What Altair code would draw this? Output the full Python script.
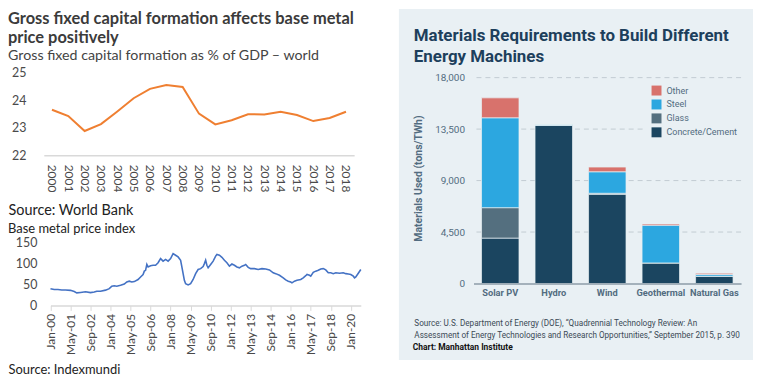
import altair as alt
import pandas as pd

# ---------------- data: left top (GFCF, % of GDP, world) ----------------
GFCF_YEARS = ["2000", "2001", "2002", "2003", "2004", "2005", "2006", "2007", "2008", "2009",
              "2010", "2011", "2012", "2013", "2014", "2015", "2016", "2017", "2018"]
GFCF_VALUES = [23.65, 23.42, 22.88, 23.13, 23.59, 24.07, 24.41, 24.55, 24.48, 23.51,
               23.12, 23.27, 23.49, 23.48, 23.58, 23.46, 23.24, 23.35, 23.58]
GFCF_TICKS = [22, 23, 24, 25]

# ---------------- data: left bottom (base metal price index) ----------------
METAL_DATES = [
    "2000-01", "2000-04", "2000-07", "2000-10", "2001-01", "2001-05", "2001-08", "2001-10",
    "2002-01", "2002-05", "2002-09", "2002-12", "2003-02", "2003-05", "2003-09", "2003-12",
    "2004-02", "2004-04", "2004-06", "2004-09", "2004-12", "2005-02", "2005-04", "2005-06",
    "2005-08", "2005-11", "2006-01", "2006-03", "2006-04", "2006-05", "2006-06", "2006-07",
    "2006-09", "2006-11", "2007-01", "2007-03", "2007-05", "2007-07", "2007-09", "2007-11",
    "2008-01", "2008-03", "2008-05", "2008-07", "2008-09", "2008-10", "2008-11", "2008-12",
    "2009-01", "2009-03", "2009-05", "2009-07", "2009-09", "2009-11", "2010-01", "2010-03",
    "2010-04", "2010-05", "2010-06", "2010-07", "2010-09", "2010-11", "2011-01", "2011-02",
    "2011-04", "2011-06", "2011-08", "2011-10", "2011-12", "2012-02", "2012-04", "2012-06",
    "2012-08", "2012-10", "2012-12", "2013-01", "2013-03", "2013-05", "2013-08", "2013-11",
    "2014-02", "2014-05", "2014-08", "2014-11", "2015-01", "2015-04", "2015-07", "2015-09",
    "2015-11", "2016-01", "2016-02", "2016-04", "2016-06", "2016-09", "2016-11", "2017-01",
    "2017-02", "2017-04", "2017-05", "2017-07", "2017-09", "2017-11", "2018-01", "2018-03",
    "2018-05", "2018-07", "2018-09", "2018-11", "2019-01", "2019-04", "2019-07", "2019-09",
    "2019-11", "2020-01", "2020-03", "2020-04", "2020-05", "2020-07", "2020-09",
]
METAL_VALUES = [
    40, 38, 38, 37, 37, 36, 33, 30,
    31, 32.5, 30.5, 32, 34, 34, 36.5, 40,
    46, 47, 46, 48, 51, 56, 58, 56,
    57, 62, 68, 74, 82, 84, 98, 92,
    95, 96, 96, 102, 112, 106, 110, 106,
    112, 124, 120, 116, 108, 92, 76, 60,
    52, 49, 52, 62, 76, 86, 88, 93,
    100, 108, 96, 90, 98, 106, 118, 122,
    120, 115, 108, 102, 94, 99, 96, 92,
    90, 94, 96, 98, 91, 88, 88, 86,
    88, 87, 85, 78, 76, 72, 66, 61,
    58, 56, 54, 58, 60, 62, 66, 71,
    74, 72, 70, 79, 82, 84, 87, 88,
    85, 78, 78, 76, 78, 77, 78, 76,
    75, 74, 70, 66, 68, 77, 86,
]
METAL_TICK_DATES = ["2000-01", "2001-05", "2002-09", "2004-01", "2005-05", "2006-09", "2008-01",
                    "2009-05", "2010-09", "2012-01", "2013-05", "2014-09", "2016-01", "2017-05",
                    "2018-09", "2020-01"]
METAL_TICK_LABELS = ["Jan-00", "May-01", "Sep-02", "Jan-04", "May-05", "Sep-06", "Jan-08",
                     "May-09", "Sep-10", "Jan-12", "May-13", "Sep-14", "Jan-16", "May-17",
                     "Sep-18", "Jan-20"]
METAL_Y_TICKS = [0, 50, 100, 150]

# ---------------- data: right (materials per TWh) ----------------
SOURCES = ["Solar PV", "Hydro", "Wind", "Geothermal", "Natural Gas"]
CONCRETE = [3970, 13830, 7800, 1800, 640]
GLASS = [2660, 0, 90, 0, 0]
STEEL = [7860, 90, 1880, 3300, 150]
OTHER = [1740, 0, 410, 110, 110]
MATERIALS = ["Other", "Steel", "Glass", "Concrete/Cement"]
MAT_COLORS = ["#d8726c", "#2ca7e0", "#546f7f", "#1b4560"]
RIGHT_Y_TICKS = [0, 4500, 9000, 13500, 18000]
RIGHT_GRID = [4500, 9000, 13500, 18000]

# ---------------- styling ----------------
LATO = "Lato"
RB = "Roboto"
ORANGE = "#ef7f31"
BLUE = "#4472c4"
GREY_TXT = "#4a4a4a"
BG = "#e9f0f4"
NAVY = "#1d3f5c"
AXIS_C = "#526c80"


def month_index(s):
    y, m = s.split("-")
    return (int(y) - 2000) * 12 + int(m) - 1


gfcf_df = pd.DataFrame({"year": GFCF_YEARS, "value": GFCF_VALUES})
metal_df = pd.DataFrame({"m": [month_index(d) for d in METAL_DATES], "v": METAL_VALUES})
tick_vals = [month_index(d) for d in METAL_TICK_DATES]
label_map = "{" + ",".join("'%d':'%s'" % (v, l) for v, l in zip(tick_vals, METAL_TICK_LABELS)) + "}"

rows = []
for i, s in enumerate(SOURCES):
    for mat, arr, o in [("Concrete/Cement", CONCRETE, 0), ("Glass", GLASS, 1),
                        ("Steel", STEEL, 2), ("Other", OTHER, 3)]:
        rows.append({"source": s, "material": mat, "tons": arr[i], "ord": o})
mat_df = pd.DataFrame(rows)
grid_df = pd.DataFrame({"tons": RIGHT_GRID})

LEFT_DX = -36

# ---------------- left top ----------------
TOP_W, TOP_H = 312, 83
top = alt.Chart(gfcf_df).mark_line(color=ORANGE, strokeWidth=2).encode(
    x=alt.X("year:O", scale=alt.Scale(type="point", padding=0.5),
            axis=alt.Axis(labelAngle=90, ticks=False, domainColor="#d9d9d9", domainWidth=1.5,
                          labelPadding=9, labelFont=LATO, labelFontSize=12, labelColor=GREY_TXT,
                          grid=False, title="Source: World Bank", titleX=LEFT_DX, titleY=60,
                          titleAlign="left", titleAnchor="start", titleBaseline="alphabetic",
                          titleFont=LATO, titleFontSize=14.5, titleFontWeight="normal",
                          titleColor="#222222")),
    y=alt.Y("value:Q", scale=alt.Scale(domain=[22, 25], nice=False, zero=False),
            axis=alt.Axis(values=GFCF_TICKS, domain=False, ticks=False, grid=False, labelPadding=18,
                          labelFont=LATO, labelFontSize=12.5, labelColor=GREY_TXT, title=None)),
).properties(
    width=TOP_W, height=TOP_H,
    title=alt.TitleParams(
        text=["Gross fixed capital formation affects base metal", "price positively"],
        subtitle="Gross fixed capital formation as % of GDP \u2013 world",
        anchor="start", frame="group", dx=LEFT_DX, offset=3,
        font=LATO, fontSize=16.5, fontWeight="bold", color="#3b3b3b", lineHeight=19,
        subtitleFont=LATO, subtitleFontSize=14.3, subtitleColor="#444444", subtitlePadding=3),
)

# ---------------- left bottom ----------------
BOT_W, BOT_H = 319, 63
bottom = alt.Chart(metal_df).mark_line(color=BLUE, strokeWidth=1.6).encode(
    x=alt.X("m:Q", scale=alt.Scale(domain=[0, 248], range=[6.7, 318.7], nice=False, zero=False),
            axis=alt.Axis(values=tick_vals, labelExpr=label_map + "[datum.value]", labelAngle=270,
                          labelFlush=False, labelOverlap=False,
                          domainColor="#d9d9d9", domainWidth=1.5, tickColor="#d9d9d9", tickSize=5,
                          labelPadding=3, labelFont=LATO, labelFontSize=12, labelColor=GREY_TXT,
                          grid=False, title="Source: Indexmundi", titleX=LEFT_DX, titleY=68,
                          titleAlign="left", titleAnchor="start", titleBaseline="alphabetic",
                          titleFont=LATO, titleFontSize=13, titleFontWeight="normal",
                          titleColor="#222222")),
    y=alt.Y("v:Q", scale=alt.Scale(domain=[0, 150], nice=False),
            axis=alt.Axis(values=METAL_Y_TICKS, domain=False, ticks=False, grid=False, labelPadding=7,
                          labelFont=LATO, labelFontSize=12.5, labelColor=GREY_TXT, title=None)),
).properties(
    width=BOT_W, height=BOT_H,
    title=alt.TitleParams(text="Base metal price index", anchor="start", frame="group", dx=LEFT_DX,
                          offset=1, font=LATO, fontSize=13, fontWeight="normal", color="#222222"),
)

left = alt.vconcat(top, bottom, spacing=5)

# ---------------- right ----------------
RW, RH = 269, 212
y_axis_right = alt.Axis(values=RIGHT_Y_TICKS, labelExpr="format(datum.value, ',')", domain=False,
                        ticks=False, grid=False, labelFont=RB, labelFontSize=10, labelColor=AXIS_C,
                        labelPadding=9, zindex=1, title="Materials Used (tons/TWh)", titleX=-55,
                        titleY=106, titleBaseline="middle", titleFont=RB, titleFontSize=10.5,
                        titleFontWeight="bold", titleColor=AXIS_C)
y_scale_right = alt.Scale(domain=[0, 18000], range=[RH, 5], nice=False)

bg = alt.Chart(pd.DataFrame({"k": [0]})).mark_rect(color=BG).encode(
    x=alt.value(-75), x2=alt.value(RW + 12), y=alt.value(-64), y2=alt.value(RH + 77))

grid = alt.Chart(grid_df).mark_rule(color="#c2ccd3", strokeDash=[5, 4], strokeWidth=1).encode(
    y=alt.Y("tons:Q", scale=y_scale_right, axis=y_axis_right))

bars = alt.Chart(mat_df).mark_bar(stroke=BG, strokeWidth=0.7).encode(
    x=alt.X("source:N", sort=SOURCES, scale=alt.Scale(paddingInner=0.3, paddingOuter=0.15),
            axis=alt.Axis(labelAngle=0, ticks=False, domainColor="#8d9da8", domainWidth=1.5,
                          labelFont=RB, labelFontSize=9.3, labelFontWeight="bold",
                          labelColor=AXIS_C, labelPadding=5, zindex=1,
                          title=["Source: U.S. Department of Energy (DOE), \u201cQuadrennial Technology Review: An",
                                 "Assessment of Energy Technologies and Research Opportunities,\u201d September 2015, p. 390"],
                          titleX=-60, titleY=42.5, titleAlign="left", titleAnchor="start",
                          titleBaseline="alphabetic", titleFont=RB, titleFontSize=8.2,
                          titleFontWeight="normal", titleColor="#3b4a56", titleLineHeight=11.5)),
    y=alt.Y("tons:Q", stack="zero", scale=y_scale_right, axis=y_axis_right),
    color=alt.Color("material:N", scale=alt.Scale(domain=MATERIALS, range=MAT_COLORS),
                    legend=alt.Legend(orient="none", legendX=173, legendY=7, title=None,
                                      symbolType="square", symbolSize=100, symbolStrokeWidth=0,
                                      symbolOpacity=1, labelFont=RB, labelFontSize=9,
                                      labelColor=AXIS_C, padding=6, fillColor=BG, rowPadding=4,
                                      labelOffset=5)),
    order=alt.Order("ord:Q", sort="ascending"),
)

credit = alt.Chart(pd.DataFrame({"t": ["Chart: Manhattan Institute"]})).mark_text(
    align="left", baseline="alphabetic", font=RB, fontSize=8.5, fontWeight="bold",
    color="#111111").encode(text="t:N", x=alt.value(-61), y=alt.value(RH + 67))

right = alt.layer(bg, grid, bars, credit).properties(
    width=RW, height=RH,
    title=alt.TitleParams(
        text=["Materials Requirements to Build Different", "Energy Machines"],
        anchor="start", frame="group", dx=-60, offset=-74, baseline="bottom",
        font=RB, fontSize=17, fontWeight="bold", color=NAVY, lineHeight=21),
)

chart = (alt.hconcat(left, right, spacing=35, padding=0)
         .resolve_legend(color="independent")
         .resolve_scale(color="independent")
         .configure_view(stroke=None))

chart.save("out.html", embed_options={"renderer": "svg", "actions": False})
